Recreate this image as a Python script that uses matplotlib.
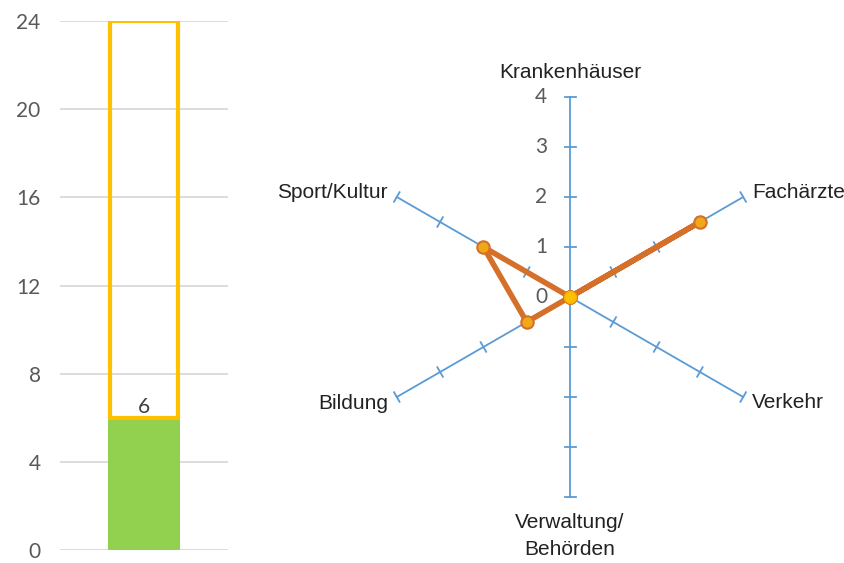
import numpy as np
import matplotlib
matplotlib.use("Agg")
import matplotlib.pyplot as plt

# ---- data ----
bar_low = 6
bar_high = 18
bar_label = "6"
y_ticks = [0, 4, 8, 12, 16, 20, 24]

categories = ["Krankenhäuser", "Fachärzte", "Verkehr", "Verwaltung/\nBehörden", "Bildung", "Sport/Kultur"]
values = [0, 3, 0, 0, 1, 2]
r_ticks = [0, 1, 2, 3, 4]

GRID = "#D9D9D9"
TXT = "#595959"
BLUE = "#5B9BD5"
LINE = "#D4702A"

fig = plt.figure(figsize=(8.44, 5.63), dpi=100)

# ---- bar (thermometer) ----
W, H = 844, 563
axb = fig.add_axes([60 / W, 13 / H, 168 / W, 529 / H])
axb.set_xlim(-0.5, 0.5)
axb.set_ylim(0, 24)
axb.set_yticks(y_ticks)
axb.set_yticklabels([str(t) for t in y_ticks], fontsize=15, color=TXT, family="Lato")
axb.tick_params(axis="y", length=0, pad=14)
axb.set_xticks([])
for s in axb.spines.values():
    s.set_visible(False)
axb.grid(axis="y", color=GRID, linewidth=1.3)
axb.set_axisbelow(True)
bw = 72 / 168
axb.bar([0], [bar_low], width=bw, color="#92D050", zorder=2)
axb.bar([0], [bar_high], bottom=[bar_low], width=bw - 0.025, facecolor="none",
        edgecolor="#FFC000", linewidth=3.0, zorder=3)
axb.text(0, bar_low + 0.05, bar_label, ha="center", va="bottom", fontsize=15,
         color="#404040", family="Lato", zorder=4)

# ---- radar ----
axr = fig.add_axes([(570 - 200) / W, (H - 297 - 200) / H, 400 / W, 400 / H], projection="polar")
axr.set_theta_zero_location("N")
axr.set_theta_direction(-1)
axr.set_ylim(0, 4)
axr.grid(False)
axr.spines["polar"].set_visible(False)
axr.set_xticks([])
axr.set_yticks([])
axr.patch.set_visible(False)

n = len(categories)
angles = np.arange(n) * 2 * np.pi / n
h = 0.11  # half-length of tick marks in data units
for a in angles:
    axr.plot([a, a], [0, 4], color=BLUE, linewidth=1.3, zorder=1, clip_on=False)
    for r in r_ticks[1:]:
        dth = np.arctan(h / r)
        rr = np.hypot(r, h)
        axr.plot([a - dth, a + dth], [rr, rr], color=BLUE, linewidth=1.3, zorder=1, clip_on=False)

for r in r_ticks:
    axr.annotate(str(r), xy=(0, r), xytext=(-29, 0), textcoords="offset pixels",
                 ha="center", va="center", fontsize=15, color=TXT, family="Lato",
                 annotation_clip=False)

th = np.append(angles, angles[0])
vv = np.append(values, values[0])
axr.plot(th, vv, color=LINE, linewidth=4, zorder=3, clip_on=False)
axr.scatter(angles, values, s=80, facecolor="#F0A818", edgecolor=LINE, linewidth=1.5,
            zorder=4, clip_on=False)
axr.scatter([0], [0], s=75, facecolor="#FFC000", edgecolor="#F5B000", linewidth=1,
            zorder=5, clip_on=False)

offsets = [(0, 25, "center"), (9, 4, "left"), (9, -6, "left"),
           (0, -39, "center"), (-9, -6, "right"), (-9, 5, "right")]
for a, lab, (dx, dy, ha) in zip(angles, categories, offsets):
    axr.annotate(lab, xy=(a, 4), xytext=(dx, dy), textcoords="offset pixels",
                 ha=ha, va="center", fontsize=15, color="#222222", family="Liberation Sans",
                 linespacing=1.55, annotation_clip=False)

fig.savefig("out.png", dpi=100)
